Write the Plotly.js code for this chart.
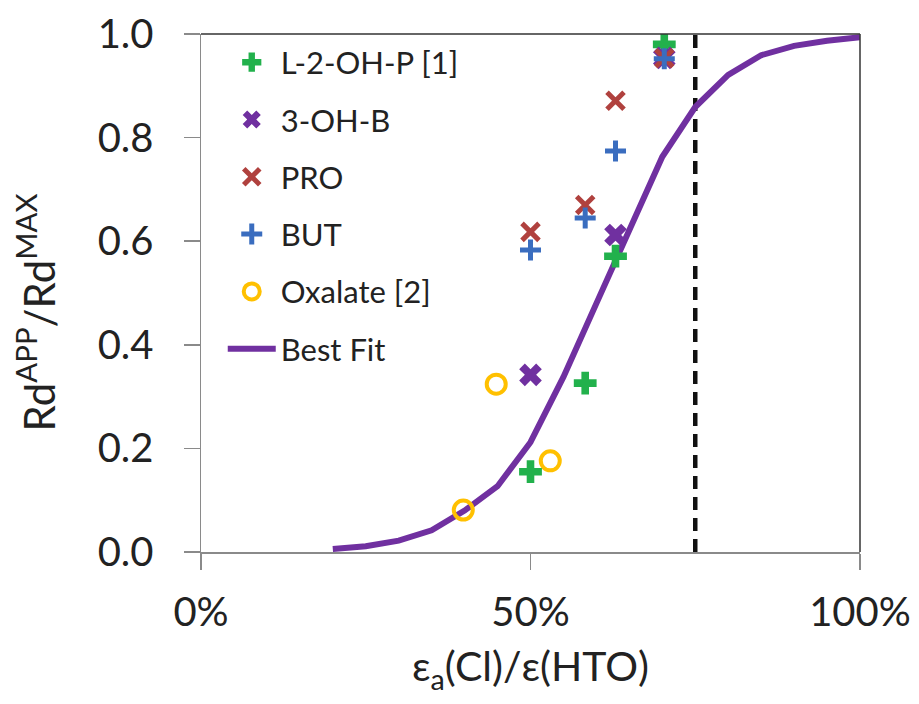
<!DOCTYPE html>
<html><head><meta charset="utf-8">
<script src="https://cdn.plot.ly/plotly-3.0.1.min.js"></script>
<style>html,body{margin:0;padding:0;background:#fff}#chart{width:919px;height:704px}</style>
</head><body><div id="chart"></div>
<script>
// Data (x in %, y = Rd_APP / Rd_MAX)
const l2ohpX = [50, 58.3, 62.9, 70.3];
const l2ohpY = [0.155, 0.326, 0.571, 0.980];
const ohbX = [50, 62.9, 70.3];
const ohbY = [0.342, 0.612, 0.954];
const proX = [50, 58.3, 62.9, 70.3];
const proY = [0.618, 0.670, 0.871, 0.953];
const butX = [50, 58.3, 62.9, 70.3];
const butY = [0.583, 0.645, 0.774, 0.952];
const oxX = [39.8, 44.8, 53.0];
const oxY = [0.081, 0.324, 0.176];
const fitX = [20, 25, 30, 35, 40, 45, 50, 55, 60, 65, 70, 75, 80, 85, 90, 95, 100];
const fitY = [0.006, 0.011, 0.022, 0.042, 0.080, 0.127, 0.212, 0.338, 0.480, 0.625, 0.763, 0.859, 0.921, 0.959, 0.977, 0.987, 0.994];
const refX = [75, 75];
const refY = [0, 1];
const xTicks = [0, 50, 100];
const xTickText = ['0%', '50%', '100%'];
const yTicks = [0, 0.2, 0.4, 0.6, 0.8, 1.0];
const yTitle = 'Rd<sup>APP</sup>/Rd<sup>MAX</sup>';
const xTitle = 'ε<sub>a</sub>(Cl)/ε(HTO)';

const FONT = 'Lato, "Open Sans", sans-serif';
const traces = [
  {x: refX, y: refY, mode: 'lines', showlegend: false, hoverinfo: 'skip',
   line: {color: '#111', width: 4.5, dash: '13px,8px'}},
  {x: fitX, y: fitY, mode: 'lines', name: 'Best Fit', legendrank: 6, legendgroup: 'f',
   line: {color: '#7030A0', width: 6}},
  {x: oxX, y: oxY, mode: 'markers', name: 'Oxalate [2]', legendrank: 5, legendgroup: 'e',
   marker: {symbol: 'circle-open', size: 19, color: '#FFC000', line: {color: '#FFC000', width: 4}}},
  {x: l2ohpX, y: l2ohpY, mode: 'markers', name: 'L-2-OH-P [1]', legendrank: 1, legendgroup: 'a',
   marker: {symbol: 'cross', size: 19, color: '#22B14C', line: {width: 0}}},
  {x: ohbX, y: ohbY, mode: 'markers', name: '3-OH-B', legendrank: 2, legendgroup: 'b',
   marker: {symbol: 'x', size: 20, color: '#7030A0', line: {width: 0}}},
  {x: proX, y: proY, mode: 'markers', name: 'PRO', legendrank: 3, legendgroup: 'c',
   marker: {symbol: 'x-thin-open', size: 17, color: '#B0413E', line: {color: '#B0413E', width: 5}}},
  {x: butX, y: butY, mode: 'markers', name: 'BUT', legendrank: 4, legendgroup: 'd',
   marker: {symbol: 'cross-thin-open', size: 15, color: '#3A6DBF', line: {color: '#3A6DBF', width: 5}}}
];

const layout = {
  width: 919, height: 704,
  margin: {l: 201, r: 59, t: 34, b: 152},
  paper_bgcolor: '#fff', plot_bgcolor: '#fff',
  font: {family: FONT, color: '#222'},
  showlegend: true,
  legend: {x: 0.033, y: 0.997, xanchor: 'left', yanchor: 'top', bgcolor: 'rgba(0,0,0,0)',
           font: {family: FONT, size: 31, color: '#222'}, traceorder: 'grouped',
           tracegroupgap: 14, itemwidth: 48},
  xaxis: {range: [0, 100], tickvals: xTicks, ticktext: xTickText, ticks: 'outside', ticklen: 16,
          tickcolor: '#8a8a8a', tickwidth: 1.5, showline: true, linecolor: '#8a8a8a', linewidth: 1.5,
          showgrid: false, zeroline: false, ticklabelstandoff: 8,
          tickfont: {family: FONT, size: 40, color: '#222'},
          title: {text: xTitle, font: {family: FONT, size: 41, color: '#222'}, standoff: 19}},
  yaxis: {range: [0, 1], tickvals: yTicks, tickformat: '.1f', ticks: 'outside', ticklen: 16,
          tickcolor: '#8a8a8a', tickwidth: 1.5, showline: true, linecolor: '#8a8a8a', linewidth: 1.5,
          showgrid: false, zeroline: false, ticklabelstandoff: 22,
          tickfont: {family: FONT, size: 40, color: '#222'}},
  annotations: [
    {text: yTitle, xref: 'paper', yref: 'paper', x: -0.25, y: 0.463, xanchor: 'center', yanchor: 'middle',
     textangle: -90, showarrow: false, font: {family: FONT, size: 42, color: '#222'}}
  ],
  shapes: [
    {type: 'line', xref: 'paper', yref: 'paper', x0: 0, x1: 1, y0: 1, y1: 1, line: {color: '#333', width: 1.5}},
    {type: 'line', xref: 'paper', yref: 'paper', x0: 1, x1: 1, y0: 0, y1: 1, line: {color: '#333', width: 1.5}}
  ]
};
Plotly.newPlot('chart', traces, layout, {displayModeBar: false, staticPlot: true});
</script></body></html>
